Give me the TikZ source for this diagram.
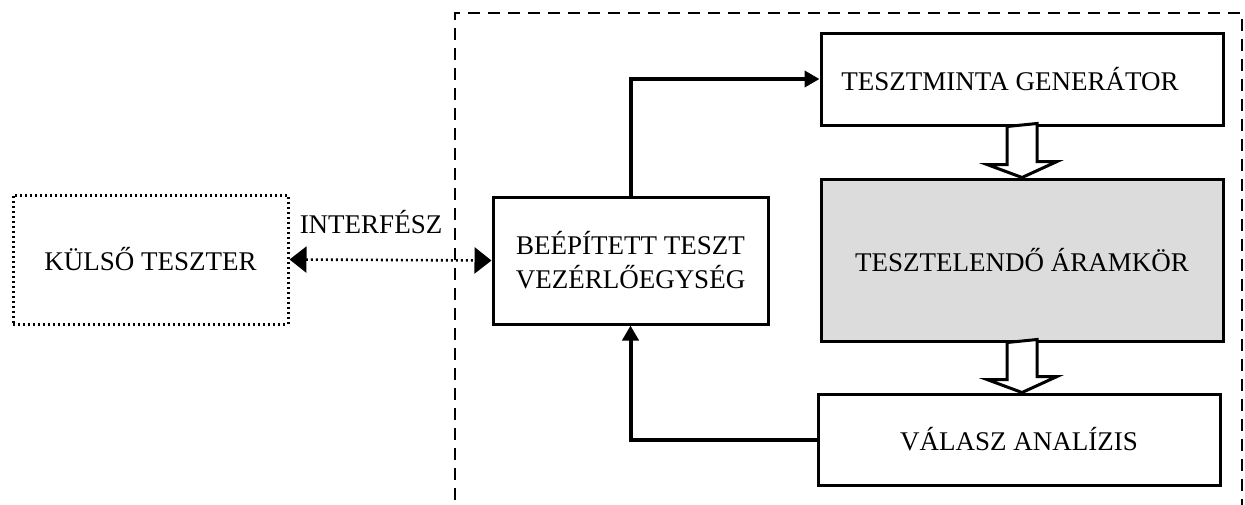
\documentclass[tikz,border=0pt]{standalone}
\usepackage{fontspec}
\setmainfont{Liberation Serif}
\usetikzlibrary{arrows.meta,calc}
\definecolor{dutgray}{RGB}{220,220,220}

\begin{document}
\begin{tikzpicture}[x=0.5pt,y=-0.5pt,
  box/.style={rectangle,draw,line width=1.5pt,inner sep=0pt,align=center,font=\fontsize{13.5}{17}\selectfont},
  flow/.style={line width=2pt,-{Triangle[length=7.5pt,width=8pt]}},
  hollow/.style={draw,line width=1.5pt,fill=white,line join=miter}]
\useasboundingbox (0,0) rectangle (1245,504);
\clip (0,0) rectangle (1245,504);
\node [box,dash pattern=on 1pt off 1.5pt,minimum width=137.5pt,minimum height=64.5pt] (kulso) at (150.5,259.5) {KÜLSŐ TESZTER};
\node [box,minimum width=137.5pt,minimum height=63.5pt] (btv) at (630.5,260.5) {BEÉPÍTETT TESZT\\VEZÉRLŐEGYSÉG};
\node [box,minimum width=201pt,minimum height=46pt] (gen) at (1022,79) {\raisebox{-1.5pt}{TESZTMINTA GENERÁTOR}\hspace*{12pt}};
\node [box,fill=dutgray,minimum width=201pt,minimum height=81pt] (dut) at (1022,260) {TESZTELENDŐ ÁRAMKÖR};
\node [box,minimum width=201pt,minimum height=45.5pt] (val) at (1019,439.5) {VÁLASZ ANALÍZIS};
\node [font=\fontsize{13.5}{16}\selectfont] (interf) at (371,222) {INTERFÉSZ};
% dashed frame
\draw [line width=1.4pt,dash pattern=on 6pt off 4pt] (455,520) -- (455,13) -- (1242,13) -- (1242,520);
\draw [line width=1.3pt,dash pattern=on 1pt off 1.5pt,{Triangle[length=8.5pt,width=13pt]}-{Triangle[length=8.5pt,width=13pt]}] (kulso.east) -- (btv.west);
\draw [flow] (btv.north) |- (gen.west);
\draw [flow] (val.west) -| (btv.south);
% hollow arrows
\draw [hollow] ($(gen.south)+(-15,0)$) -- ++(0,38) -- ++(-20,0) -- (dut.north) -- ++(35,-16) -- ++(-20,0) -- ++(0,-38) -- cycle;
\draw [hollow] ($(dut.south)+(-15,0)$) -- ++(0,37) -- ++(-20,0) -- ($(val.north)+(3,0)$) -- ++(35,-16) -- ++(-20,0) -- ++(0,-37) -- cycle;
\end{tikzpicture}
\end{document}
